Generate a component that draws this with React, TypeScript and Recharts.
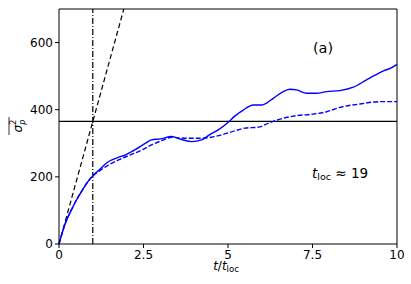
import React from "react";
import { LineChart, Line, XAxis, YAxis, ReferenceLine } from "recharts";

// solid blue curve
const solidT = [0, 0.1, 0.2, 0.35, 0.5, 0.7, 0.85, 1, 1.2, 1.46, 1.6, 1.75, 1.95, 2.15, 2.4, 2.6, 2.74, 3.0, 3.33, 3.6, 3.93, 4.22, 4.45, 4.71, 5.0, 5.2, 5.45, 5.75, 6.0, 6.34, 6.6, 6.83, 7.03, 7.33, 7.62, 7.92, 8.31, 8.71, 9.1, 9.35, 9.6, 9.8, 10];
const solidV = [0, 35, 65, 98, 128, 162, 185, 203, 222, 245, 252, 258, 265, 275, 290, 303, 310, 313, 320, 312, 305, 310, 325, 340, 362, 381, 399, 414, 414, 434, 452, 461, 459, 449, 449, 454, 457, 467, 489, 503, 516, 523, 535];

// dashed blue curve
const dashT = [0, 0.1, 0.2, 0.35, 0.5, 0.7, 0.85, 1, 1.2, 1.46, 1.8, 2.1, 2.35, 2.6, 2.84, 3.1, 3.33, 3.6, 3.83, 4.22, 4.5, 4.81, 5.2, 5.5, 5.9, 6.2, 6.44, 6.93, 7.52, 7.92, 8.31, 8.9, 9.5, 10];
const dashV = [0, 35, 65, 98, 128, 162, 185, 203, 218, 235, 252, 265, 275, 288, 300, 310, 318, 316, 315, 315, 318, 325, 337, 345, 348, 360, 369, 381, 387, 394, 407, 417, 424, 424];

// black dashed slope line
const slopeT = [0, 1.918];
const slopeV = [0, 700];

const xTicks = [0, 2.5, 5, 7.5, 10];
const yTicks = [0, 200, 400, 600];
const plateau = 365;
const tLoc = 1;

const solidData = solidT.map((t, i) => ({ t, v: solidV[i] }));
const dashData = dashT.map((t, i) => ({ t, v: dashV[i] }));
const slopeData = slopeT.map((t, i) => ({ t, v: slopeV[i] }));

const font = "DejaVu Sans, sans-serif";

const App = () => {
  return (
    <div style={{ position: "fixed", left: 0, top: 0, width: 411, height: 284, background: "#fff" }}>
      <LineChart width={411} height={284} margin={{ top: 9, right: 14, left: 0, bottom: 0 }}>
        <XAxis
          type="number"
          dataKey="t"
          domain={[0, 10]}
          ticks={xTicks}
          height={40}
          allowDuplicatedCategory={false}
          stroke="#000"
          tickSize={4}
          tick={{ fill: "#000", fontSize: 12, fontFamily: font }}
        />
        <YAxis
          type="number"
          dataKey="v"
          domain={[0, 700]}
          ticks={yTicks}
          width={59}
          allowDataOverflow
          stroke="#000"
          tickSize={4}
          tick={{ fill: "#000", fontSize: 12, fontFamily: font }}
        />
        <ReferenceLine y={700} stroke="#000" strokeWidth={1} />
        <ReferenceLine x={10} stroke="#000" strokeWidth={1} />
        <ReferenceLine y={plateau} stroke="#000" strokeWidth={1.3} />
        <ReferenceLine x={tLoc} stroke="#000" strokeWidth={1.2} strokeDasharray="6 2 1 2" />
        <Line data={slopeData} dataKey="v" type="linear" stroke="#000" strokeWidth={1.2} strokeDasharray="5 3" dot={false} isAnimationActive={false} />
        <Line data={dashData} dataKey="v" type="monotone" stroke="#0000ff" strokeWidth={1.4} strokeDasharray="5 2" dot={false} isAnimationActive={false} />
        <Line data={solidData} dataKey="v" type="monotone" stroke="#0000ff" strokeWidth={1.4} dot={false} isAnimationActive={false} />
        <text x={323} y={53} textAnchor="middle" fontSize={14.5} fontFamily={font} fill="#000">(a)</text>
        <text x={312} y={178} fontSize={13.5} fontFamily={font} fill="#000">
          <tspan fontStyle="italic">t</tspan>
          <tspan fontSize={9.5} dy={2}>loc</tspan>
          <tspan dy={-2}> ≈ 19</tspan>
        </text>
        <text x={226} y={270} textAnchor="middle" fontSize={12} fontFamily={font} fill="#000">
          <tspan fontStyle="italic">t</tspan>
          <tspan>/</tspan>
          <tspan fontStyle="italic">t</tspan>
          <tspan fontSize={8.5} dy={2}>loc</tspan>
        </text>
        <g transform="translate(22,126) rotate(-90)">
          <text x={0} y={0} textAnchor="middle" fontSize={12} fontFamily={font} fill="#000">
            <tspan fontStyle="italic">σ</tspan>
            <tspan fontSize={8} fontStyle="italic" dy={3}>p</tspan>
            <tspan fontSize={8} dx={-5} dy={-9}>2</tspan>
          </text>
          <line x1={-9} x2={9} y1={-13} y2={-13} stroke="#000" strokeWidth={0.8} />
        </g>
      </LineChart>
    </div>
  );
};

export default App;
